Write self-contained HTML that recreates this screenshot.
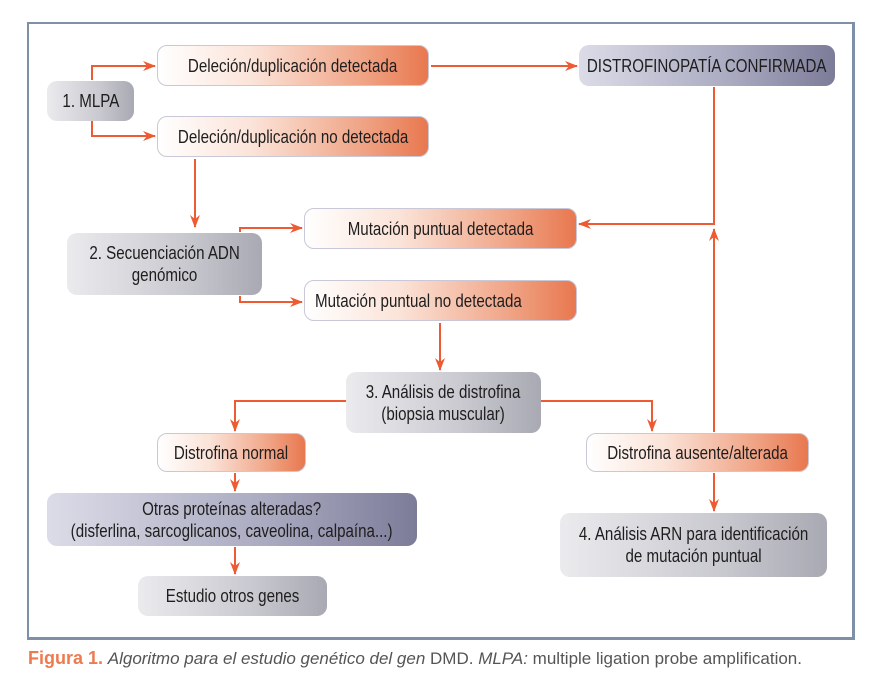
<!DOCTYPE html>
<html><head><meta charset="utf-8"><style>
html,body{margin:0;padding:0;background:#fff;width:882px;height:680px;overflow:hidden}
body{position:relative;font-family:"Liberation Sans",sans-serif;color:#1e1e1e}
.frame{position:absolute;left:27px;top:22px;width:823px;height:613px;border:2px solid #7f8fa8;border-bottom-width:3px;border-right-width:3px}
.b{position:absolute;box-sizing:border-box;border-radius:10px;display:flex;align-items:center;justify-content:center;text-align:center;font-size:18px;line-height:22px;white-space:nowrap}
.b span{display:inline-block;transform:scaleX(.84)}
.o{background:linear-gradient(to right,#fff 0%,#fbe3d8 35%,#f0a587 75%,#e8784f 100%);border:1px solid #c8c8d8}
.g{background:linear-gradient(to right,#ebebee 0%,#c9c9d0 60%,#a9a9b3 100%)}
.p{background:linear-gradient(to right,#dcdce8 0%,#a9a9c0 60%,#7c7c99 100%)}
svg{position:absolute;left:0;top:0}
.cap{position:absolute;left:28px;top:648px;font-size:17px;color:#555;white-space:nowrap}
.cap b{color:#ee7a50;font-size:18px}
</style></head><body>
<div class="frame"></div>
<div class="b o" style="left:157px;top:45px;width:272px;height:41px"><span>Deleción/duplicación detectada</span></div>
<div class="b g" style="left:47px;top:81px;width:87px;height:40px"><span>1. MLPA</span></div>
<div class="b o" style="left:157px;top:116px;width:272px;height:41px"><span>Deleción/duplicación no detectada</span></div>
<div class="b p" style="left:579px;top:45px;width:256px;height:41px"><span>DISTROFINOPATÍA CONFIRMADA</span></div>
<div class="b g" style="left:67px;top:233px;width:195px;height:62px"><span>2. Secuenciación ADN<br>genómico</span></div>
<div class="b o" style="left:304px;top:208px;width:273px;height:41px"><span>Mutación puntual detectada</span></div>
<div class="b o" style="left:304px;top:280px;width:273px;height:41px;justify-content:flex-start;padding-left:0px"><span style="transform-origin:0 50%;margin-left:10px">Mutación puntual no detectada</span></div>
<div class="b g" style="left:346px;top:372px;width:195px;height:61px"><span>3. Análisis de distrofina<br>(biopsia muscular)</span></div>
<div class="b o" style="left:157px;top:433px;width:149px;height:39px"><span>Distrofina normal</span></div>
<div class="b o" style="left:586px;top:433px;width:223px;height:39px"><span>Distrofina ausente/alterada</span></div>
<div class="b p" style="left:47px;top:493px;width:370px;height:53px"><span>Otras proteínas alteradas?<br>(disferlina, sarcoglicanos, caveolina, calpaína...)</span></div>
<div class="b g" style="left:560px;top:513px;width:267px;height:64px"><span>4. Análisis ARN para identificación<br>de mutación puntual</span></div>
<div class="b g" style="left:138px;top:576px;width:189px;height:40px"><span>Estudio otros genes</span></div>
<svg width="882" height="680" viewBox="0 0 882 680">
<defs><marker id="a" markerWidth="13" markerHeight="10" refX="12" refY="5" orient="auto" markerUnits="userSpaceOnUse"><path d="M0,0 L13,5 L0,10 L4,5 z" fill="#ee5a32"/></marker></defs>
<g stroke="#ee5a32" stroke-width="2" fill="none">
<path d="M92,80 V66 H155" marker-end="url(#a)"/>
<path d="M92,121 V136 H155" marker-end="url(#a)"/>
<path d="M431,66 H577" marker-end="url(#a)"/>
<path d="M714,87 V224 H579" marker-end="url(#a)"/>
<path d="M195,159 V227" marker-end="url(#a)"/>
<path d="M240,232 V228 H302" marker-end="url(#a)"/>
<path d="M240,296 V302 H302" marker-end="url(#a)"/>
<path d="M440,323 V370" marker-end="url(#a)"/>
<path d="M346,401 H235 V431" marker-end="url(#a)"/>
<path d="M541,401 H652 V431" marker-end="url(#a)"/>
<path d="M714,432 V229" marker-end="url(#a)"/>
<path d="M714,473 V511" marker-end="url(#a)"/>
<path d="M235,473 V491" marker-end="url(#a)"/>
<path d="M235,547 V574" marker-end="url(#a)"/>
</g></svg>
<div class="cap"><b>Figura 1.</b> <i>Algoritmo para el estudio genético del gen</i> DMD. <i>MLPA:</i> multiple ligation probe amplification.</div>
</body></html>
